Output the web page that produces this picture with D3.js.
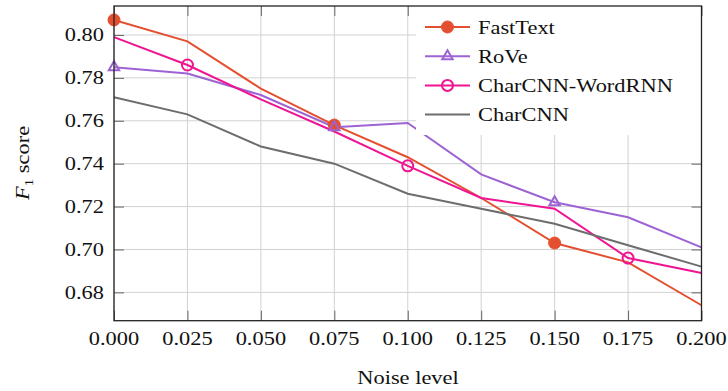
<!DOCTYPE html>
<head>
  <meta charset="utf-8">
  <script src="https://d3js.org/d3.v7.min.js"></script>
  <style>
    body { margin:0; background:#fff; }
    svg { display:block; }
    text { font-family: "Liberation Serif", serif; fill:#111; }
  </style>
</head>
<body>
  <svg width="728" height="391"></svg>
  <script>
    // noise levels (x) and F1 scores per model
    var noise = [0, 0.025, 0.05, 0.075, 0.1, 0.125, 0.15, 0.175, 0.2];
    var fastText = [0.807, 0.797, 0.775, 0.758, 0.743, 0.724, 0.703, 0.694, 0.674];
    var rove = [0.785, 0.782, 0.772, 0.757, 0.759, 0.735, 0.722, 0.715, 0.701];
    var charWord = [0.799, 0.786, 0.770, 0.755, 0.739, 0.724, 0.719, 0.696, 0.689];
    var charCNN = [0.771, 0.763, 0.748, 0.740, 0.726, 0.719, 0.712, 0.702, 0.692];
    var names = ['FastText', 'RoVe', 'CharCNN-WordRNN', 'CharCNN'];
    var xTicks = [0, 0.025, 0.05, 0.075, 0.1, 0.125, 0.15, 0.175, 0.2];
    var yTicks = [0.68, 0.70, 0.72, 0.74, 0.76, 0.78, 0.80];

    var series = [
      {name: names[0], values: fastText, color: '#e4502f', marker: 'dot', marks: [0, 3, 6]},
      {name: names[1], values: rove, color: '#9d63d4', marker: 'tri', marks: [0, 3, 6]},
      {name: names[2], values: charWord, color: '#ef1592', marker: 'ring', marks: [1, 4, 7]},
      {name: names[3], values: charCNN, color: '#6d6d6d', marker: null, marks: []}
    ];

    var plotL = 114, plotR = 701.5, plotT = 6, plotB = 320.7;
    var sx = 1.18; // horizontal stretch of the labels
    var fs = 19;

    var x = d3.scaleLinear().domain([0, 0.2]).range([plotL, plotR]);
    var y = d3.scaleLinear().domain([0.6668, 0.8135]).range([plotB, plotT]);

    var svg = d3.select('svg');

    function label(g, tx, ty, str, anchor) {
      return g.append('text')
        .attr('transform', 'translate(' + [tx, ty] + ') scale(' + sx + ',1)')
        .attr('text-anchor', anchor)
        .style('font-size', fs + 'px')
        .text(str);
    }

    // grid
    var grid = svg.append('g').attr('stroke', '#d2d2d2').attr('stroke-width', 1);
    grid.selectAll('.gx').data(xTicks).enter().append('line')
      .attr('x1', d => x(d)).attr('x2', d => x(d)).attr('y1', plotT).attr('y2', plotB);
    grid.selectAll('.gy').data(yTicks).enter().append('line')
      .attr('x1', plotL).attr('x2', plotR).attr('y1', d => y(d)).attr('y2', d => y(d));

    // inward ticks on all four sides
    function styleAxis(g) {
      g.select('.domain').remove();
      g.selectAll('.tick line').attr('stroke', '#666').attr('stroke-width', 1);
    }
    svg.append('g').attr('transform', 'translate(0,' + plotB + ')')
      .call(d3.axisBottom(x).tickValues(xTicks).tickSize(-10).tickFormat('')).call(styleAxis);
    svg.append('g').attr('transform', 'translate(0,' + plotT + ')')
      .call(d3.axisTop(x).tickValues(xTicks).tickSize(-10).tickFormat('')).call(styleAxis);
    svg.append('g').attr('transform', 'translate(' + plotL + ',0)')
      .call(d3.axisLeft(y).tickValues(yTicks).tickSize(-10).tickFormat('')).call(styleAxis);
    svg.append('g').attr('transform', 'translate(' + plotR + ',0)')
      .call(d3.axisRight(y).tickValues(yTicks).tickSize(-10).tickFormat('')).call(styleAxis);

    // lines
    var line = d3.line().x((d, i) => x(noise[i])).y(d => y(d));
    var plot = svg.append('g');
    series.forEach(s => {
      plot.append('path')
        .attr('d', line(s.values))
        .attr('fill', 'none')
        .attr('stroke', s.color)
        .attr('stroke-width', 2);
    });

    function drawMarker(g, type, cx, cy, color) {
      if (type === 'dot') {
        g.append('circle').attr('cx', cx).attr('cy', cy).attr('r', 6)
          .attr('fill', color).attr('stroke', color);
      } else if (type === 'ring') {
        g.append('circle').attr('cx', cx).attr('cy', cy).attr('r', 5.5)
          .attr('fill', 'none').attr('stroke', color).attr('stroke-width', 2);
      } else if (type === 'tri') {
        var r = 6;
        g.append('path')
          .attr('d', 'M' + cx + ',' + (cy - r) + 'L' + (cx + r * 0.87) + ',' + (cy + r * 0.5) +
                'L' + (cx - r * 0.87) + ',' + (cy + r * 0.5) + 'Z')
          .attr('fill', 'none').attr('stroke', color).attr('stroke-width', 2);
      }
    }
    series.forEach(s => {
      s.marks.forEach(i => drawMarker(plot, s.marker, x(noise[i]), y(s.values[i]), s.color));
    });

    // legend
    var lg = svg.append('g');
    lg.append('rect').attr('x', 416).attr('y', plotT).attr('width', plotR - 416).attr('height', 129)
      .attr('fill', '#fff');
    series.forEach((s, i) => {
      var ly = 27 + i * 29.2;
      lg.append('line').attr('x1', 425).attr('x2', 470).attr('y1', ly).attr('y2', ly)
        .attr('stroke', s.color).attr('stroke-width', 2);
      if (s.marker) drawMarker(lg, s.marker, 447.5, ly, s.color);
      label(lg, 478, ly + 6.5, s.name, 'start');
    });

    // frame
    svg.append('rect').attr('x', plotL).attr('y', plotT)
      .attr('width', plotR - plotL).attr('height', plotB - plotT)
      .attr('fill', 'none').attr('stroke', '#222').attr('stroke-width', 1.3);

    // tick labels
    var fx = d3.format('.3f'), fy = d3.format('.2f');
    xTicks.forEach(t => label(svg, x(t), 345, fx(t), 'middle'));
    yTicks.forEach(t => label(svg, 104, y(t) + 6.5, fy(t), 'end'));

    // axis titles
    label(svg, 408, 384, 'Noise level', 'middle');
    var yl = svg.append('text')
      .attr('transform', 'translate(29,163) rotate(-90) scale(' + sx + ',1)')
      .attr('text-anchor', 'middle')
      .style('font-size', fs + 'px');
    yl.append('tspan').style('font-style', 'italic').text('F');
    yl.append('tspan').attr('dy', 4).style('font-size', '13px').text('1');
    yl.append('tspan').attr('dy', -4).text('\u00a0score');
  </script>
</body>
